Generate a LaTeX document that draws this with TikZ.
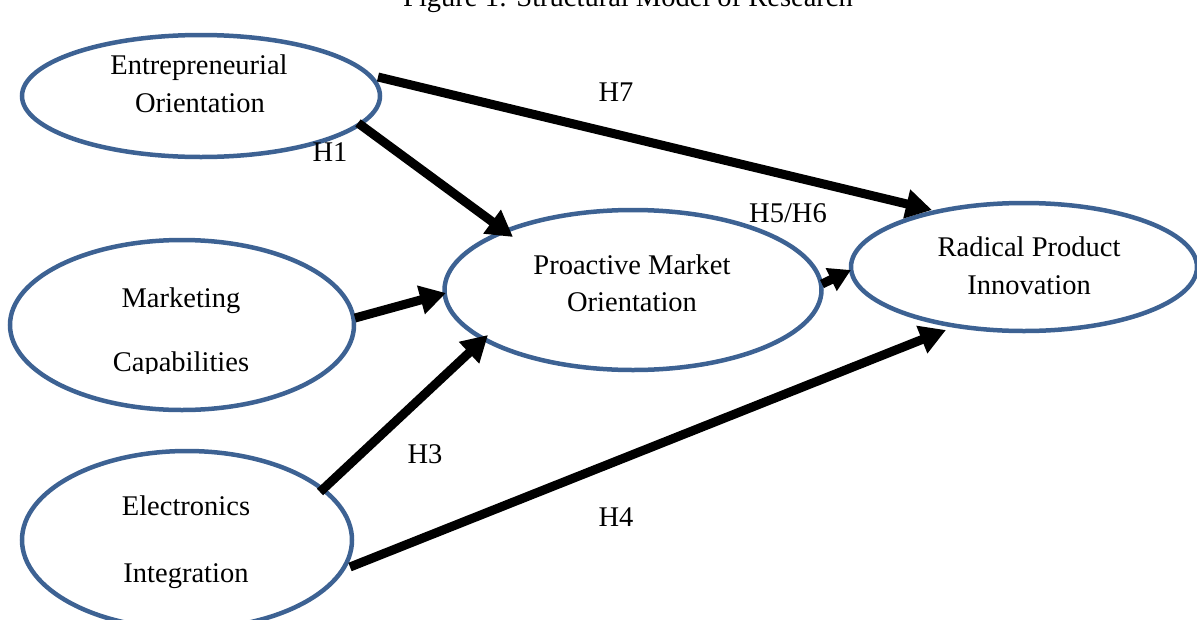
\documentclass[tikz,border=0pt]{standalone}
\usepackage{fontspec}
\setmainfont{Liberation Serif}
\usetikzlibrary{shapes.geometric,arrows.meta}
\definecolor{ellblue}{HTML}{3D6293}
\tikzset{
  construct/.style={ellipse,draw=ellblue,line width=4.5pt,fill=white,inner sep=0pt},
  txt/.style={anchor=base,inner sep=0pt,font=\fontsize{28.5}{34}\selectfont},
  path/.style={line width=9pt,-{Triangle[length=26pt,width=28pt]}},
}
\begin{document}
\begin{tikzpicture}[x=1pt,y=-1pt]
\useasboundingbox (0,0) rectangle (1197,619);
\begin{scope}
\clip (0,0) rectangle (1197,619);
\node[txt] (title) at (628,6) {Figure 1: Structural Model of Research};
% label mostly hidden behind the Marketing ellipse
\node[txt] (h2) at (282,280) {H2};
\node[construct,minimum width=358pt,minimum height=122pt] (eo) at (201,96) {};
\node[construct,minimum width=344pt,minimum height=170pt] (mc) at (182,325) {};
\node[construct,minimum width=330pt,minimum height=178pt] (ei) at (187,540) {};
\node[construct,minimum width=377pt,minimum height=160pt] (pmo) at (633,290) {};
\node[construct,minimum width=346pt,minimum height=128pt] (rpi) at (1024,267) {};
\node[txt] (eo1) at (199,74) {Entrepreneurial};
\node[txt] (eo2) at (200,112) {Orientation};
\node[txt] (pmo1) at (632,274) {Proactive Market};
\node[txt] (pmo2) at (632,311) {Orientation};
\node[txt] (rpi1) at (1029,256) {Radical Product};
\node[txt] (rpi2) at (1029,294) {Innovation};
\node[txt] (mc1) at (181,307) {Marketing};
\begin{scope}
\clip (0,0) rectangle (1197,373);
\node[txt] (mc2) at (181,371) {Capabilities};
\end{scope}
\node[txt] (ei1) at (186,515) {Electronics};
\node[txt] (ei2) at (186,582) {Integration};
% labels
\node[txt] (lh7) at (616,101) {H7};
\node[txt] (lh1) at (330,161) {H1};
\node[txt] (lh56) at (788,222) {H5/H6};
\node[txt] (lh3) at (425,463) {H3};
\node[txt] (lh4) at (616,526) {H4};
% connector endpoints
\coordinate (s7) at (378,77);   \coordinate (e7) at (932,210);
\coordinate (s1) at (358,123);  \coordinate (e1) at (513,237);
\coordinate (s2) at (355,318);  \coordinate (e2) at (446,293);
\coordinate (s3) at (320,492);  \coordinate (e3) at (488,335);
\coordinate (s5) at (822,284);  \coordinate (e5) at (851,270);
\coordinate (s4) at (350,567);  \coordinate (e4) at (946,330);
\draw[path] (s7) -- (e7);
\draw[path] (s1) -- (e1);
\draw[path] (s2) -- (e2);
\draw[path] (s3) -- (e3);
\draw[path,-{Triangle[length=22pt,width=24pt]}] (s5) -- (e5);
\draw[path] (s4) -- (e4);
\end{scope}
\end{tikzpicture}
\end{document}
